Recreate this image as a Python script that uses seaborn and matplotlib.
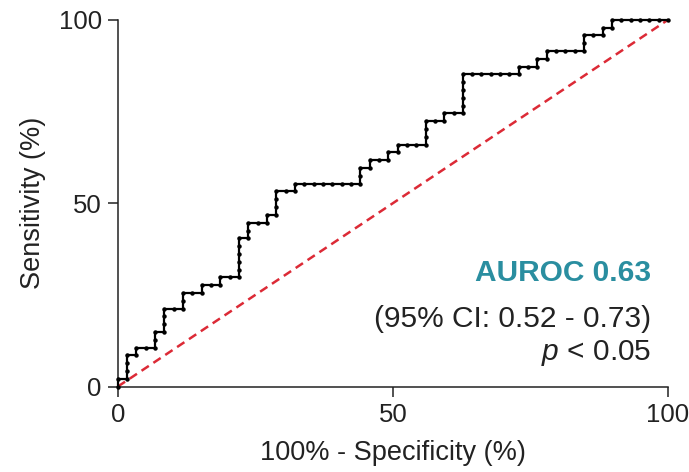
import numpy as np
import pandas as pd
import matplotlib
matplotlib.use("Agg")
import matplotlib.pyplot as plt
import seaborn as sns

# Outcomes ordered by decreasing score, as alternating runs:
# positives (cases) then negatives (controls)
pos_runs = [1, 3, 1, 2, 3, 2, 1, 1, 5, 2, 1, 3, 1, 2, 1, 1, 1, 3, 1, 5, 1, 1, 1, 2, 1, 1]
neg_runs = [1, 1, 2, 1, 2, 2, 2, 2, 1, 2, 1, 2, 7, 1, 2, 1, 3, 2, 2, 6, 2, 1, 4, 2, 1, 6]

auroc_text = "AUROC 0.63"
ci_text = "(95% CI: 0.52 - 0.73)"
p_text = r"$\it{p}$ < 0.05"
x_ticks = [0, 50, 100]
y_ticks = [0, 50, 100]

# Build the ROC curve from the ordered outcomes
labels = []
for p, n in zip(pos_runs, neg_runs):
    labels += [1] * p + [0] * n
labels = np.array(labels)
n_pos = labels.sum()
n_neg = len(labels) - n_pos
tpr = np.concatenate([[0], np.cumsum(labels == 1)]) / n_pos * 100
fpr = np.concatenate([[0], np.cumsum(labels == 0)]) / n_neg * 100
roc = pd.DataFrame({"fpr": fpr, "tpr": tpr})

sns.set_theme(style="ticks")
plt.rcParams["font.family"] = ["Liberation Sans", "DejaVu Sans"]
plt.rcParams["mathtext.fontset"] = "custom"
plt.rcParams["mathtext.it"] = "Liberation Sans:italic"
plt.rcParams["mathtext.rm"] = "Liberation Sans"

fig = plt.figure(figsize=(6.89, 4.72), dpi=100)
ax = fig.add_axes([0.171, 0.181, 0.7985, 0.777])

# chance line
ax.plot([0, 100], [0, 100], color="#dc2a36", lw=1.8, ls=(0, (3.5, 2.2)),
        zorder=2, clip_on=False)

sns.lineplot(data=roc, x="fpr", y="tpr", sort=False, estimator=None,
             color="black", lw=1.6, marker="o", markersize=3.2,
             markeredgewidth=0, ax=ax, zorder=3, clip_on=False)

ax.set_xlim(0, 100)
ax.set_ylim(0, 100)
ax.set_xticks(x_ticks)
ax.set_yticks(y_ticks)
ax.tick_params(axis="both", labelsize=18.5, length=7.5, width=1.1,
               color="#222222", labelcolor="#222222", pad=4)
for s in ["left", "bottom"]:
    ax.spines[s].set_linewidth(1.1)
    ax.spines[s].set_color("#222222")
sns.despine(ax=ax)

ax.set_xlabel("100% - Specificity (%)", fontsize=19.5, color="#222222", labelpad=10)
ax.set_ylabel("Sensitivity (%)", fontsize=19.5, color="#222222", labelpad=9)

ax.text(0.97, 0.31, auroc_text, transform=ax.transAxes, ha="right", va="center",
        fontsize=21.5, fontweight="bold", color="#2a8ea0")
ax.text(0.97, 0.183, ci_text, transform=ax.transAxes, ha="right", va="center",
        fontsize=21.5, color="#222222")
ax.text(0.97, 0.092, p_text, transform=ax.transAxes, ha="right", va="center",
        fontsize=21.5, color="#222222")

fig.savefig("out.png", dpi=100)
